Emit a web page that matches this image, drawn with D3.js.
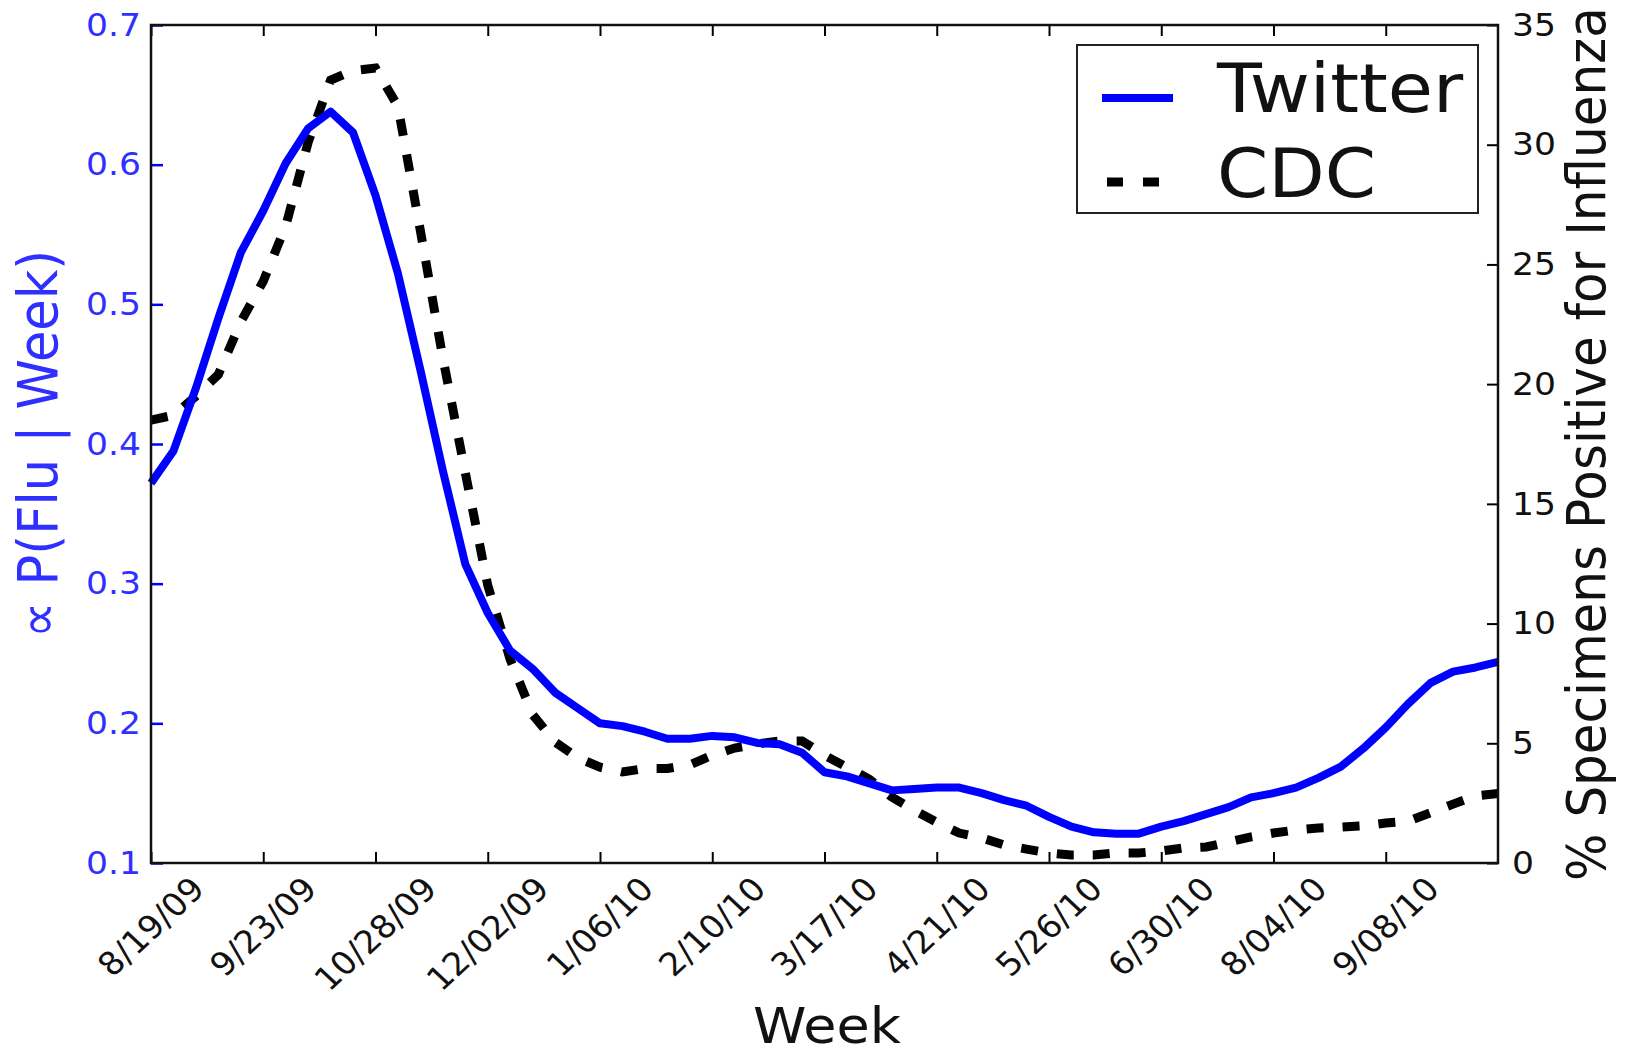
<!DOCTYPE html>
<html>
<head>
<meta charset="utf-8">
<script src="https://cdn.jsdelivr.net/npm/d3@7"></script>
<style>
  body { margin: 0; background: #fff; }
  text { font-family: "DejaVu Sans", sans-serif; }
</style>
</head>
<body>
<svg id="chart"></svg>
<script>
// week labels, one every 5 weeks
var tickLabels = ["8/19/09", "9/23/09", "10/28/09", "12/02/09", "1/06/10", "2/10/10",
  "3/17/10", "4/21/10", "5/26/10", "6/30/10", "8/04/10", "9/08/10"];

// Twitter, proportional to P(Flu | Week), weekly from 8/19/09
var twitter = [0.372, 0.395, 0.440, 0.490, 0.537, 0.567, 0.601, 0.626, 0.638, 0.623,
  0.578, 0.522, 0.453, 0.381, 0.314, 0.279, 0.252, 0.239, 0.222, 0.211,
  0.200, 0.198, 0.194, 0.189, 0.189, 0.191, 0.190, 0.186, 0.185, 0.179,
  0.165, 0.162, 0.157, 0.152, 0.153, 0.154, 0.154, 0.150, 0.145, 0.141,
  0.133, 0.126, 0.122, 0.121, 0.121, 0.126, 0.130, 0.135, 0.140, 0.147,
  0.150, 0.154, 0.161, 0.169, 0.182, 0.197, 0.214, 0.229, 0.237, 0.240,
  0.244];

// CDC, % specimens positive for influenza
var cdc = [18.5, 18.7, 19.5, 20.4, 22.6, 24.3, 26.6, 30.1, 32.7, 33.1,
  33.2, 31.6, 26.4, 21.1, 16.3, 11.6, 8.5, 6.2, 5.05, 4.4,
  4.0, 3.8, 3.95, 3.95, 4.1, 4.5, 4.8, 4.97, 5.1, 5.1,
  4.5, 4.0, 3.5, 2.75, 2.2, 1.7, 1.25, 1.05, 0.75, 0.58,
  0.42, 0.33, 0.33, 0.42, 0.42, 0.5, 0.63, 0.67, 0.88, 1.09,
  1.25, 1.38, 1.46, 1.5, 1.55, 1.67, 1.75, 2.1, 2.46, 2.8,
  2.9];

var leftTicks = [0.1, 0.2, 0.3, 0.4, 0.5, 0.6, 0.7];
var rightTicks = [0, 5, 10, 15, 20, 25, 30, 35];

var W = 1625, H = 1052;
var m = {left: 151, right: 127, top: 25, bottom: 189};
var w = W - m.left - m.right;
var h = H - m.top - m.bottom;
var blueText = "#2f2fff";
var SX = 1.08; // the original figure is a little wider than tall

var svg = d3.select("#chart").attr("width", W).attr("height", H);
var g = svg.append("g").attr("transform", "translate(" + m.left + "," + m.top + ")");

var x = d3.scaleLinear().domain([0, 60]).range([0, w]);
var yL = d3.scaleLinear().domain([0.1, 0.7]).range([h, 0]);
var yR = d3.scaleLinear().domain([0, 35]).range([h, 0]);

var xTickVals = tickLabels.map(function (d, i) { return i * 5; });

function place(sel, px, py, rot) {
  sel.attr("x", 0).attr("y", 0)
    .attr("transform", "translate(" + px + "," + py + ") scale(" + SX + ",1)" + (rot ? " rotate(" + rot + ")" : ""));
}

// lines
var lineT = d3.line()
  .x(function (d, i) { return x(i); })
  .y(function (d) { return yL(d); });
var lineC = d3.line()
  .x(function (d, i) { return x(i); })
  .y(function (d) { return yR(d); });

g.append("path")
  .datum(cdc)
  .attr("d", lineC)
  .attr("fill", "none")
  .attr("stroke", "#000")
  .attr("stroke-width", 9)
  .attr("stroke-dasharray", "17,19");

g.append("path")
  .datum(twitter)
  .attr("d", lineT)
  .attr("fill", "none")
  .attr("stroke", "#0000ff")
  .attr("stroke-width", 8)
  .attr("stroke-linejoin", "round");

// axes, ticks pointing inwards
var leftAx = g.append("g")
  .call(d3.axisLeft(yL).tickValues(leftTicks).tickSize(-12).tickPadding(11).tickFormat(d3.format(".1f")));
leftAx.selectAll("line").attr("stroke", "#0000ff").attr("stroke-width", 2.5);
leftAx.selectAll("text").attr("fill", blueText).style("font-size", "32px")
  .each(function () { place(d3.select(this), -10, 0); });

var rightAx = g.append("g")
  .attr("transform", "translate(" + w + ",0)")
  .call(d3.axisRight(yR).tickValues(rightTicks).tickSize(-11).tickPadding(13));
rightAx.selectAll("line").attr("stroke", "#000").attr("stroke-width", 2);
rightAx.selectAll("text").attr("fill", "#111").style("font-size", "32px")
  .each(function () { place(d3.select(this), 14, 0); });

var bottomAx = g.append("g")
  .attr("transform", "translate(0," + h + ")")
  .call(d3.axisBottom(x).tickValues(xTickVals).tickSize(-11).tickFormat(""));
bottomAx.selectAll("line").attr("stroke", "#000").attr("stroke-width", 2);

var topAx = g.append("g")
  .call(d3.axisTop(x).tickValues(xTickVals).tickSize(-11).tickFormat(""));
topAx.selectAll("line").attr("stroke", "#000").attr("stroke-width", 2);

g.selectAll(".domain").remove();

g.append("rect")
  .attr("width", w).attr("height", h)
  .attr("fill", "none")
  .attr("stroke", "#111")
  .attr("stroke-width", 2.5);

// rotated week labels, centred under each tick
var xl = g.append("g").attr("class", "xlabels");
xl.selectAll("text")
  .data(tickLabels)
  .enter().append("text")
  .text(function (d) { return d; })
  .attr("text-anchor", "middle")
  .attr("dominant-baseline", "central")
  .attr("fill", "#111")
  .style("font-size", "32px")
  .each(function (d, i) {
    var L = this.getComputedTextLength();
    var half = (L + 23) / (2 * Math.SQRT2);
    place(d3.select(this), x(i * 5), h + 12 + half, -45);
  });

// axis titles
place(svg.append("text")
  .attr("text-anchor", "middle")
  .attr("fill", "#111")
  .style("font-size", "50px")
  .text("Week"), 827, 1043);

place(svg.append("text")
  .attr("text-anchor", "middle")
  .attr("dominant-baseline", "central")
  .attr("fill", blueText)
  .style("font-size", "51px")
  .text("\u221D P(Flu | Week)"), 38, m.top + h / 2, -90);

place(svg.append("text")
  .attr("text-anchor", "middle")
  .attr("dominant-baseline", "central")
  .attr("fill", "#111")
  .style("font-size", "50px")
  .text("% Specimens Positive for Influenza"), 1586, m.top + h / 2, -90);

// legend
var lg = svg.append("g");
lg.append("rect")
  .attr("x", 1077).attr("y", 45)
  .attr("width", 401).attr("height", 168)
  .attr("fill", "#fff")
  .attr("stroke", "#222")
  .attr("stroke-width", 2);
lg.append("line")
  .attr("x1", 1102).attr("x2", 1173).attr("y1", 98).attr("y2", 98)
  .attr("stroke", "#0000ff").attr("stroke-width", 8);
lg.append("line")
  .attr("x1", 1107).attr("x2", 1173).attr("y1", 182).attr("y2", 182)
  .attr("stroke", "#000").attr("stroke-width", 9)
  .attr("stroke-dasharray", "16,20");
place(lg.append("text")
  .attr("fill", "#111")
  .style("font-size", "68px")
  .text("Twitter"), 1217, 112);
place(lg.append("text")
  .attr("fill", "#111")
  .style("font-size", "68px")
  .text("CDC"), 1217, 197);
</script>
</body>
</html>
